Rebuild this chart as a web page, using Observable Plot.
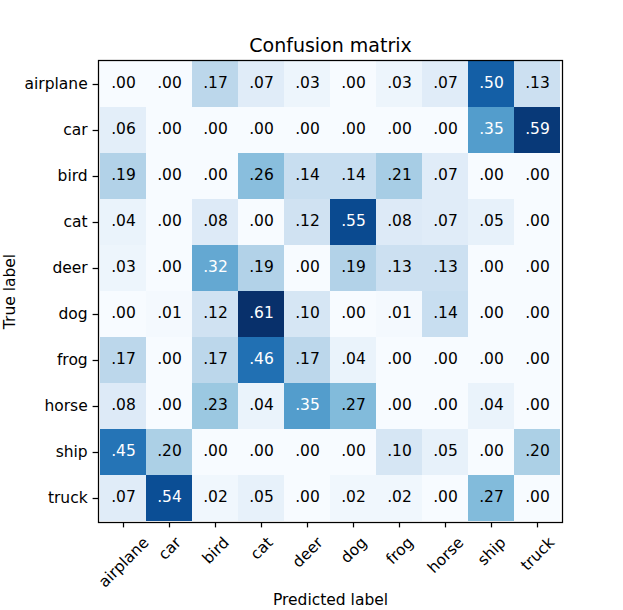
<!DOCTYPE html>
<html><head><meta charset="utf-8">
<script src="https://cdn.jsdelivr.net/npm/d3@7"></script>
<script src="https://cdn.jsdelivr.net/npm/@observablehq/plot@0.6"></script>
<style>body{margin:0;background:#fff;font-family:"DejaVu Sans";}</style>
</head><body><div id="chart"></div>
<script>
const classes = ["airplane","car","bird","cat","deer","dog","frog","horse","ship","truck"];
const rowAirplane = [0.00,0.00,0.17,0.07,0.03,0.00,0.03,0.07,0.50,0.13];
const rowCar      = [0.06,0.00,0.00,0.00,0.00,0.00,0.00,0.00,0.35,0.59];
const rowBird     = [0.19,0.00,0.00,0.26,0.14,0.14,0.21,0.07,0.00,0.00];
const rowCat      = [0.04,0.00,0.08,0.00,0.12,0.55,0.08,0.07,0.05,0.00];
const rowDeer     = [0.03,0.00,0.32,0.19,0.00,0.19,0.13,0.13,0.00,0.00];
const rowDog      = [0.00,0.01,0.12,0.61,0.10,0.00,0.01,0.14,0.00,0.00];
const rowFrog     = [0.17,0.00,0.17,0.46,0.17,0.04,0.00,0.00,0.00,0.00];
const rowHorse    = [0.08,0.00,0.23,0.04,0.35,0.27,0.00,0.00,0.04,0.00];
const rowShip     = [0.45,0.20,0.00,0.00,0.00,0.00,0.10,0.05,0.00,0.20];
const rowTruck    = [0.07,0.54,0.02,0.05,0.00,0.02,0.02,0.00,0.27,0.00];
const rows = [rowAirplane,rowCar,rowBird,rowCat,rowDeer,rowDog,rowFrog,rowHorse,rowShip,rowTruck];

const data = rows.flatMap((r, i) => r.map((v, j) => ({truth: classes[i], pred: classes[j], value: v})));
const vmax = d3.max(data, d => d.value);
const thresh = vmax / 2;
const fmt = v => v.toFixed(2).replace(/^0/, "");
const FS = 15.5;

const chart = Plot.plot({
  width: 623, height: 610,
  marginLeft: 98, marginRight: 61, marginTop: 60, marginBottom: 88,
  style: {fontFamily: "DejaVu Sans", fontSize: FS + "px", background: "white", color: "black"},
  x: {domain: classes, padding: 0},
  y: {domain: classes, padding: 0},
  color: {type: "linear", scheme: "blues", domain: [0, vmax]},
  marks: [
    Plot.cell(data, {x: "pred", y: "truth", fill: "value", inset: 0}),
    Plot.text(data.filter(d => d.value <= thresh), {x: "pred", y: "truth", text: d => fmt(d.value), fill: "black", fontSize: FS, dy: -1}),
    Plot.text(data.filter(d => d.value > thresh), {x: "pred", y: "truth", text: d => fmt(d.value), fill: "white", fontSize: FS, dy: -1}),
    Plot.frame({stroke: "black", strokeWidth: 1.25}),
    Plot.axisY({tickSize: 5.4, tickPadding: 5.4, fontSize: FS, strokeWidth: 1.25, label: "True label", labelAnchor: "center"}),
    Plot.axisX({tickSize: 5.4, tickPadding: 5.4, fontSize: FS, strokeWidth: 1.25, tickRotate: -45, label: "Predicted label", labelAnchor: "center", labelOffset: 82}),
    Plot.text(["Confusion matrix"], {frameAnchor: "top", lineAnchor: "bottom", dy: -9, fontSize: 19})
  ]
});
document.getElementById("chart").appendChild(chart);

// matplotlib-style rotated labels (rotation=45, ha=center): center the rotated bbox under the tick
const svg = chart.tagName.toLowerCase() === "svg" ? chart : chart.querySelector("svg");
svg.querySelectorAll('g[aria-label="x-axis tick label"] text').forEach(t => {
  const L = t.getComputedTextLength();
  const h = 1.164 * FS;
  const H = Math.SQRT1_2 * (L + h);
  const m = /translate\(([^,\s]+)[,\s]+([^)]+)\)/.exec(t.getAttribute("transform") || "");
  if (!m) return;
  const x = +m[1], y = +m[2];
  t.removeAttribute("y");
  t.removeAttribute("dy");
  t.setAttribute("text-anchor", "middle");
  t.setAttribute("dy", "0.346em");
  t.setAttribute("transform", `translate(${x},${y + H / 2}) rotate(-45)`);
});
</script>
</body></html>
